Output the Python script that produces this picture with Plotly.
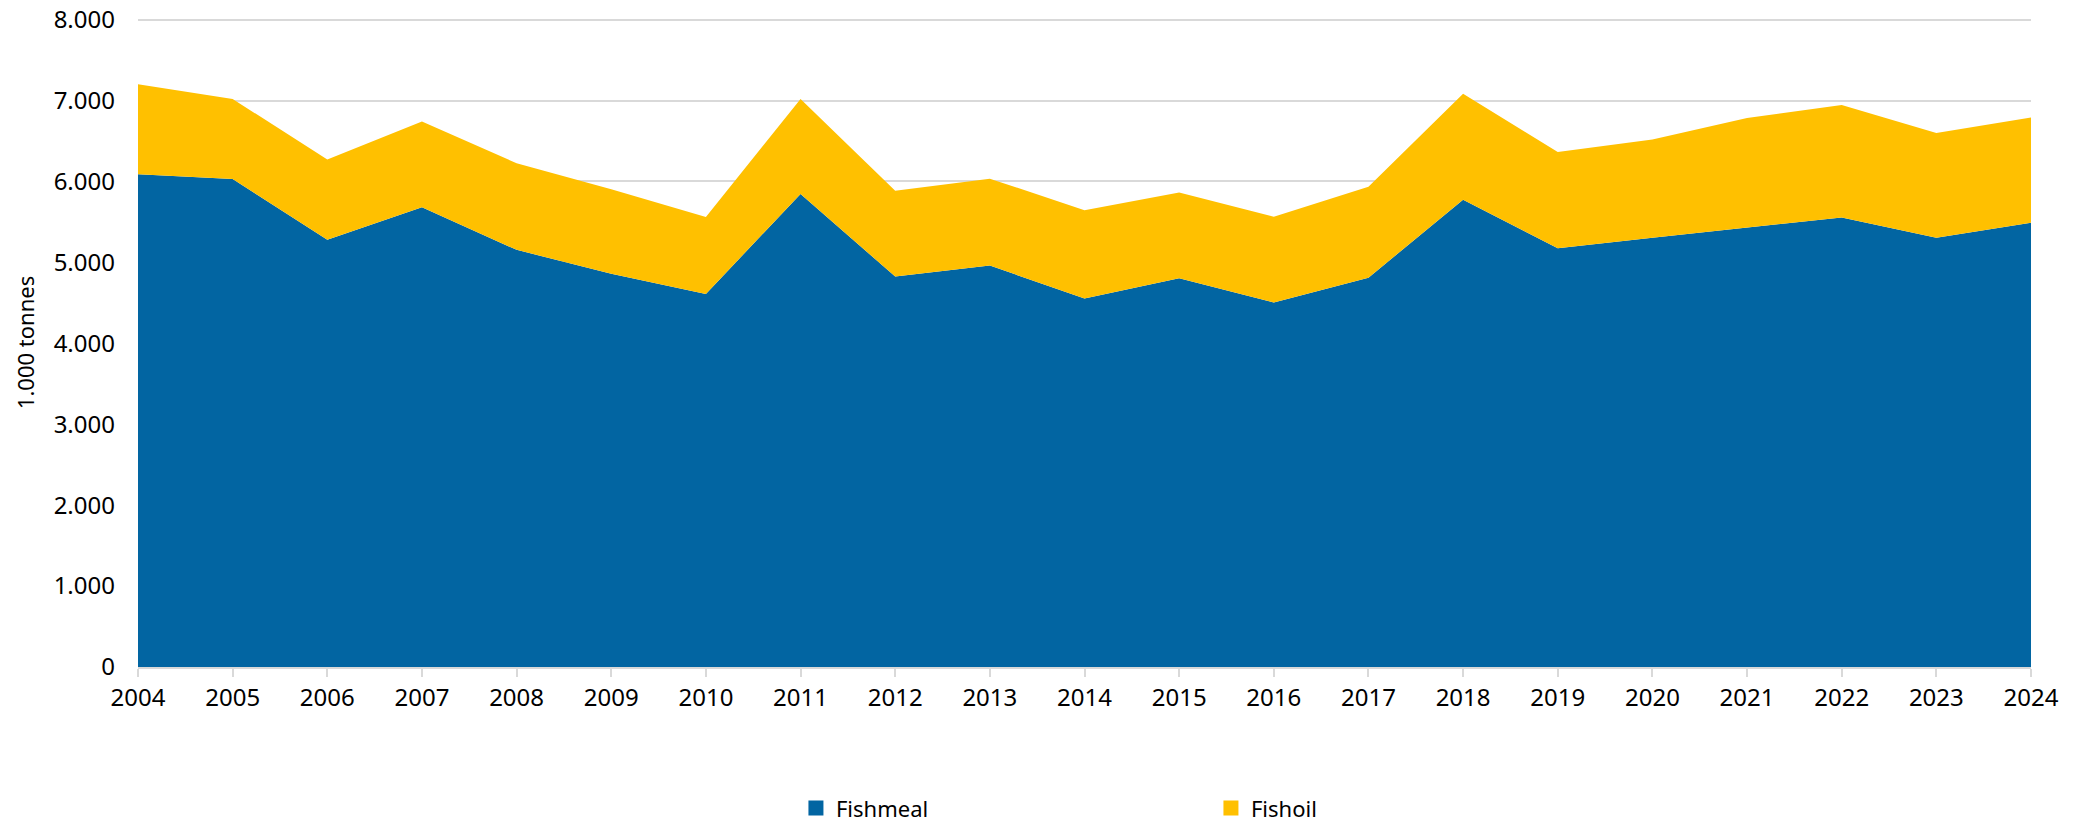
import plotly.graph_objects as go

years = list(range(2004, 2025))
fishmeal = [6090, 6030, 5280, 5680, 5155, 4860, 4610, 5845, 4825, 4960, 4555,
            4805, 4505, 4810, 5775, 5175, 5305, 5430, 5555, 5305, 5490]
fishoil = [1110, 990, 990, 1060, 1070, 1045, 950, 1175, 1060, 1075, 1090,
           1060, 1060, 1125, 1310, 1190, 1215, 1355, 1390, 1295, 1300]
y_ticks = list(range(0, 8001, 1000))

BLUE = "#0265A2"
YELLOW = "#FFC000"
GRID = "#d9d9d9"
FONT = "Noto Sans"

fig = go.Figure()
for name, vals, col in [("Fishmeal", fishmeal, BLUE), ("Fishoil", fishoil, YELLOW)]:
    fig.add_trace(go.Scatter(
        x=years, y=vals, name=name, stackgroup="one", mode="lines",
        line=dict(width=0, color=col), fillcolor=col, showlegend=False,
        hovertemplate="%{x}: %{y:,d}<extra>" + name + "</extra>",
    ))
    # square legend markers
    fig.add_trace(go.Scatter(
        x=[None], y=[None], name=name, mode="markers",
        marker=dict(symbol="square", size=15, color=col), showlegend=True,
    ))

fig.update_xaxes(
    range=[2004, 2024], tickmode="array", tickvals=years,
    ticks="outside", ticklen=8, tickwidth=2, tickcolor=GRID,
    showline=True, linecolor=GRID, linewidth=2, showgrid=False,
    tickfont=dict(size=24, color="#000000"),
)
fig.update_yaxes(
    range=[0, 8020], tickvals=y_ticks, tickformat=",d",
    showgrid=True, gridcolor=GRID, gridwidth=2, zeroline=False,
    ticklabelstandoff=22, tickfont=dict(size=24, color="#000000"),
    title=dict(text="1.000 tonnes", font=dict(size=22, color="#000000"), standoff=12),
)
fig.update_layout(
    width=2076, height=823,
    separators=",.",
    font=dict(family=FONT, color="#000000"),
    plot_bgcolor="white", paper_bgcolor="white",
    margin=dict(l=138, r=45, t=18, b=156, autoexpand=False),
    legend=dict(
        orientation="h", xref="container", yref="container",
        x=0.3834, y=0.018, xanchor="left", yanchor="middle",
        traceorder="normal",
        entrywidth=370, entrywidthmode="pixels",
        font=dict(size=22, color="#000000"),
    ),
)
# drop the browser's default body margin so the figure sits at the page corner
fig.write_html(
    "out.html",
    config={"displayModeBar": False},
    post_script="document.body.style.margin='0';",
)
